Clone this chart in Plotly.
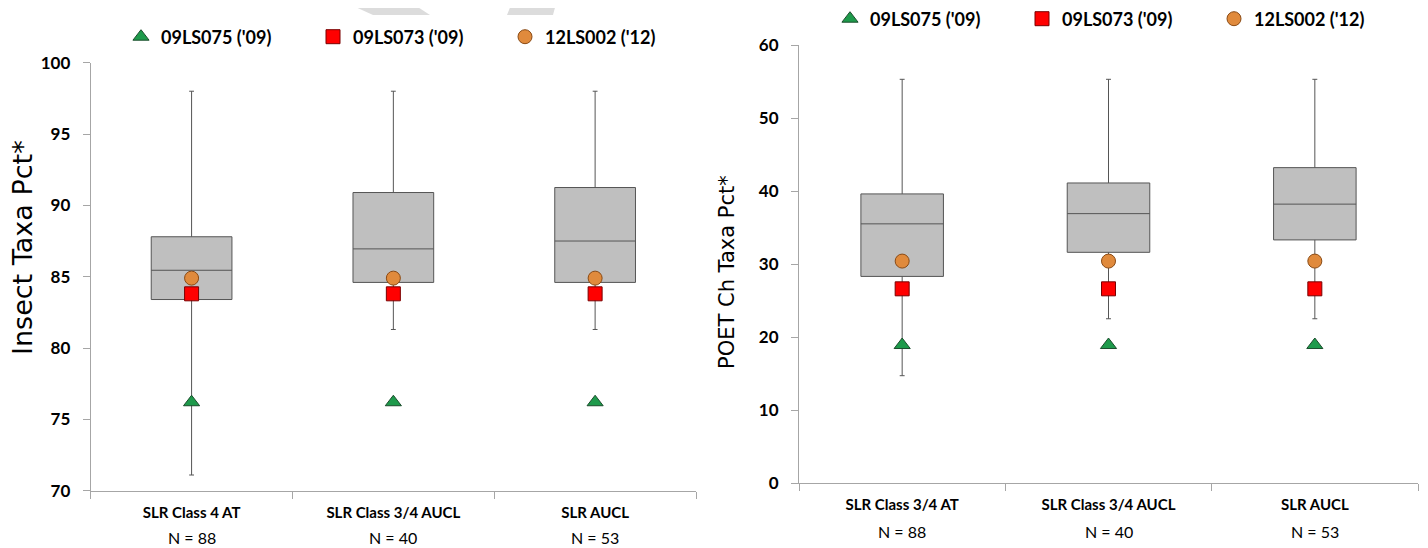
import plotly.graph_objects as go

W, H = 1428, 548
OFF = 8  # page body margin offset
FW, FH = W - OFF, H - OFF

# ---------------- data ----------------
cats_left = ["SLR Class 4 AT", "SLR Class 3/4 AUCL", "SLR AUCL"]
cats_right = ["SLR Class 3/4 AT", "SLR Class 3/4 AUCL", "SLR AUCL"]
n_left = ["N = 88", "N = 40", "N = 53"]
n_right = ["N = 88", "N = 40", "N = 53"]

# Insect Taxa Pct* box statistics
ins_low = [71.1, 81.3, 81.3]
ins_q1 = [83.4, 84.6, 84.6]
ins_med = [85.45, 86.95, 87.5]
ins_q3 = [87.8, 90.9, 91.25]
ins_high = [98.0, 98.0, 98.0]

# POET Ch Taxa Pct* box statistics
poet_low = [14.7, 22.5, 22.5]
poet_q1 = [28.3, 31.6, 33.3]
poet_med = [35.5, 36.9, 38.2]
poet_q3 = [39.6, 41.1, 43.2]
poet_high = [55.3, 55.3, 55.3]

# site values
site_names = ["09LS075 ('09)", "09LS073 ('09)", "12LS002 ('12)"]
ins_sites = [[76.2, 76.2, 76.2], [83.8, 83.8, 83.8], [84.9, 84.9, 84.9]]
poet_sites = [[18.9, 18.9, 18.9], [26.6, 26.6, 26.6], [30.4, 30.4, 30.4]]

# ---------------- styles ----------------
sym = ["triangle-up", "square", "circle"]
fill = ["#1E9A4B", "#FF0000", "#E08A3C"]
edge = ["#1B4D2C", "#7A0000", "#8A4A14"]
FONT = "Lato"
AXC = "#A6A6A6"

fig = go.Figure()

def add_boxes(cats, low, q1, med, q3, high, xa, ya):
    fig.add_trace(go.Box(
        x=cats, lowerfence=low, q1=q1, median=med, q3=q3, upperfence=high,
        xaxis=xa, yaxis=ya, width=0.4, whiskerwidth=0.06,
        fillcolor="#BFBFBF", line=dict(color="#555555", width=1),
        boxpoints=False, showlegend=False, hoverinfo="skip"))

add_boxes(cats_left, ins_low, ins_q1, ins_med, ins_q3, ins_high, "x", "y")
add_boxes(cats_right, poet_low, poet_q1, poet_med, poet_q3, poet_high, "x2", "y2")

for i in range(3):
    fig.add_trace(go.Scatter(
        x=cats_left, y=ins_sites[i], mode="markers", name=site_names[i],
        xaxis="x", yaxis="y", legend="legend",
        marker=dict(symbol=sym[i], size=14, color=fill[i],
                    line=dict(color=edge[i], width=1))))
for i in range(3):
    fig.add_trace(go.Scatter(
        x=cats_right, y=poet_sites[i], mode="markers", name=site_names[i],
        xaxis="x2", yaxis="y2", legend="legend2",
        marker=dict(symbol=sym[i], size=14, color=fill[i],
                    line=dict(color=edge[i], width=1))))

def px_x(p):
    return (p - OFF) / FW

def px_y(p):
    return 1 - (p - OFF) / FH

xcommon = dict(type="category", showline=True, linecolor=AXC, linewidth=1,
               ticks="outside", tickcolor=AXC, ticklen=7, tickson="boundaries",
               showgrid=False, zeroline=False, range=[-0.5, 2.5],
               tickfont=dict(family=FONT, size=15, color="#000000", weight="bold"),
               ticklabelstandoff=8)
ycommon = dict(showline=True, linecolor=AXC, linewidth=1, ticks="outside",
               tickcolor=AXC, ticklen=7, showgrid=False, zeroline=False,
               tickfont=dict(family=FONT, size=17, color="#000000", weight="bold"),
               ticklabelstandoff=9)

fig.update_layout(
    width=FW, height=FH,
    margin=dict(l=0, r=0, t=0, b=0, autoexpand=False),
    paper_bgcolor="white", plot_bgcolor="white",
    xaxis=dict(domain=[px_x(90.7), px_x(696)], anchor="y", **xcommon),
    yaxis=dict(domain=[px_y(490.7), px_y(62.7)], anchor="x", range=[70, 100], dtick=5,
               **ycommon),
    xaxis2=dict(domain=[px_x(799), px_x(1418)], anchor="y2", **xcommon),
    yaxis2=dict(domain=[px_y(483), px_y(45)], anchor="x2", range=[0, 60], dtick=10,
                **ycommon),
    legend=dict(orientation="h", x=px_x(121), y=px_y(37), xanchor="left", yanchor="middle",
                font=dict(family=FONT, size=18, color="#000000", weight="bold"),
                entrywidth=147, itemwidth=30, bgcolor="rgba(0,0,0,0)"),
    legend2=dict(orientation="h", x=px_x(830), y=px_y(19), xanchor="left", yanchor="middle",
                 font=dict(family=FONT, size=18, color="#000000", weight="bold"),
                 entrywidth=147, itemwidth=30, bgcolor="rgba(0,0,0,0)"),
)

# axis titles
fig.add_annotation(x=px_x(22), y=px_y(248), xref="paper", yref="paper", text="Insect Taxa Pct*",
                   textangle=-90, showarrow=False, xanchor="center", yanchor="middle",
                   font=dict(family="DejaVu Sans", size=27, color="#000000"))
fig.add_annotation(x=px_x(727), y=px_y(272), xref="paper", yref="paper", text="POET Ch Taxa Pct*",
                   textangle=-90, showarrow=False, xanchor="center", yanchor="middle",
                   font=dict(family="DejaVu Sans", size=21, color="#000000"))

for c, t in zip(cats_left, n_left):
    fig.add_annotation(x=c, xref="x", y=px_y(537), yref="paper", text=t, showarrow=False,
                       yanchor="middle", font=dict(family=FONT, size=16, color="#000000"))
for c, t in zip(cats_right, n_right):
    fig.add_annotation(x=c, xref="x2", y=px_y(531), yref="paper", text=t, showarrow=False,
                       yanchor="middle", font=dict(family=FONT, size=16, color="#000000"))

# faint watermark stripes at the top
fig.add_shape(type="path", xref="paper", yref="paper", layer="below", line=dict(width=0),
              fillcolor="#DCDCDC",
              path=f"M {px_x(340)} {px_y(0)} L {px_x(407)} {px_y(0)} L {px_x(430)} {px_y(15)} L {px_x(373)} {px_y(15)} Z")
fig.add_shape(type="path", xref="paper", yref="paper", layer="below", line=dict(width=0),
              fillcolor="#DCDCDC",
              path=f"M {px_x(513)} {px_y(0)} L {px_x(557)} {px_y(0)} L {px_x(553)} {px_y(15)} L {px_x(507)} {px_y(15)} Z")

fig.write_html("out.html")
